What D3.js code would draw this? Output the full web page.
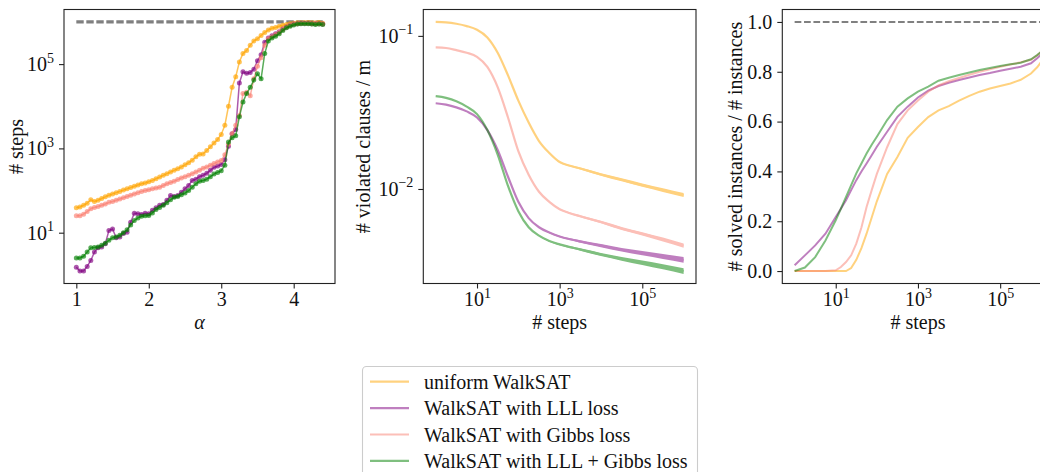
<!DOCTYPE html>
<html>
<head>
<meta charset="utf-8">
<script src="https://cdn.jsdelivr.net/npm/d3@7/dist/d3.min.js"></script>
<style>
  html, body { margin: 0; padding: 0; background: #fff; overflow: hidden; }
  svg { display: block; }
  text { font-family: "Liberation Serif", "Times New Roman", serif; fill: #111; }
</style>
</head>
<body>
<svg id="fig" width="1040" height="472"></svg>
<script>
// ---------------- data ----------------
const seriesNames = ["uniform WalkSAT", "WalkSAT with LLL loss", "WalkSAT with Gibbs loss", "WalkSAT with LLL + Gibbs loss"];
const seriesColors = ["orange", "purple", "salmon", "green"];

// Panel 1: median number of steps (log10) vs clause density alpha
const alphaValues = [1.00, 1.05, 1.10, 1.15, 1.20, 1.25, 1.30, 1.35, 1.40, 1.45, 1.50, 1.55, 1.60, 1.65, 1.70, 1.75, 1.80, 1.85, 1.90, 1.95,
  2.00, 2.05, 2.10, 2.15, 2.20, 2.25, 2.30, 2.35, 2.40, 2.45, 2.50, 2.55, 2.60, 2.65, 2.70, 2.75, 2.80, 2.85, 2.90, 2.95,
  3.00, 3.05, 3.10, 3.15, 3.20, 3.25, 3.30, 3.35, 3.40, 3.45, 3.50, 3.55, 3.60, 3.65, 3.70, 3.75, 3.80, 3.85, 3.90, 3.95,
  4.00, 4.05, 4.10, 4.15, 4.20, 4.25, 4.30, 4.35, 4.40];
const stepsUniformLog10 = [1.59, 1.61, 1.65, 1.70, 1.78, 1.74, 1.77, 1.81, 1.85, 1.89, 1.92, 1.95, 1.98, 2.01, 2.04, 2.07, 2.10, 2.13, 2.16, 2.18,
  2.21, 2.24, 2.28, 2.32, 2.36, 2.40, 2.44, 2.48, 2.52, 2.56, 2.61, 2.66, 2.72, 2.80, 2.86, 2.87, 2.95, 3.04, 3.13, 3.21,
  3.33, 3.55, 4.00, 4.45, 4.70, 5.05, 5.25, 5.32, 5.45, 5.55, 5.60, 5.68, 5.75, 5.81, 5.85, 5.87, 5.90, 5.92, 5.94, 5.96,
  5.97, 5.98, 5.98, 5.99, 5.99, 5.98, 5.98, 5.99, 5.97];
const stepsLLLLog10 = [0.18, 0.09, 0.09, 0.20, 0.34, 0.54, 0.64, 0.66, 0.74, 1.05, 1.09, 0.88, 0.90, 0.98, 1.01, 1.25, 1.46, 1.45, 1.43, 1.46,
  1.45, 1.53, 1.59, 1.65, 1.67, 1.77, 1.88, 1.86, 1.88, 1.96, 2.04, 2.12, 2.24, 2.27, 2.33, 2.36, 2.41, 2.48, 2.55, 2.58,
  2.62, 2.73, 3.05, 3.35, 3.45, 4.55, 4.82, 4.78, 4.80, 4.88, 5.08, 5.22, 5.52, 5.62, 5.67, 5.72, 5.77, 5.83, 5.88, 5.92,
  5.95, 5.96, 5.97, 5.97, 5.97, 5.96, 5.96, 5.96, 5.95];
const stepsGibbsLog10 = [1.40, 1.40, 1.44, 1.50, 1.57, 1.60, 1.62, 1.65, 1.68, 1.72, 1.74, 1.77, 1.80, 1.83, 1.86, 1.89, 1.92, 1.95, 1.98, 2.00,
  2.02, 2.04, 2.06, 2.08, 2.12, 2.16, 2.19, 2.22, 2.26, 2.30, 2.33, 2.36, 2.40, 2.44, 2.48, 2.53, 2.56, 2.60, 2.64, 2.68,
  2.71, 2.85, 3.10, 3.35, 3.55, 3.78, 4.30, 4.33, 4.25, 4.65, 4.95, 5.15, 5.45, 5.60, 5.65, 5.70, 5.75, 5.82, 5.88, 5.92,
  5.95, 5.96, 5.97, 5.97, 5.97, 5.96, 5.96, 5.96, 5.95];
const stepsLLLGibbsLog10 = [0.40, 0.40, 0.44, 0.54, 0.64, 0.65, 0.66, 0.70, 0.75, 0.82, 0.88, 0.90, 0.94, 1.00, 1.07, 1.18, 1.29, 1.35, 1.39, 1.40,
  1.41, 1.47, 1.55, 1.60, 1.65, 1.71, 1.78, 1.84, 1.86, 1.90, 1.94, 2.00, 2.08, 2.16, 2.22, 2.24, 2.27, 2.33, 2.39, 2.43,
  2.47, 2.60, 3.15, 3.25, 3.30, 3.75, 4.10, 4.30, 4.45, 4.62, 4.77, 4.65, 5.25, 5.55, 5.62, 5.66, 5.72, 5.80, 5.86, 5.90,
  5.93, 5.95, 5.96, 5.96, 5.96, 5.95, 5.94, 5.95, 5.94];
const maxStepsLog10 = 6;
const alphaTicks = [1, 2, 3, 4];
const stepsTicksLog10 = [1, 3, 5];

// Panel 2: fraction of violated clauses (log10) vs number of steps (log10)
const violatedStepsLog10 = [0, 0.25, 0.5, 0.75, 1, 1.25, 1.5, 1.75, 2, 2.25, 2.5, 2.75, 3, 3.25, 3.5, 4, 4.5, 5, 5.5, 6];
const violatedUniformLog10 = [-0.909, -0.912, -0.921, -0.936, -0.960, -1.010, -1.110, -1.258, -1.423, -1.566, -1.687, -1.765, -1.824, -1.848, -1.866, -1.905, -1.940, -1.975, -2.007, -2.040];
const violatedLLLLog10 = [-1.440, -1.449, -1.467, -1.493, -1.533, -1.615, -1.745, -1.920, -2.084, -2.190, -2.250, -2.285, -2.310, -2.328, -2.343, -2.370, -2.397, -2.419, -2.441, -2.463];
const violatedGibbsLog10 = [-1.075, -1.079, -1.093, -1.110, -1.137, -1.203, -1.335, -1.533, -1.753, -1.907, -2.018, -2.084, -2.132, -2.158, -2.178, -2.216, -2.258, -2.293, -2.330, -2.370];
const violatedLLLGibbsLog10 = [-1.394, -1.405, -1.427, -1.462, -1.511, -1.615, -1.775, -1.980, -2.145, -2.250, -2.305, -2.340, -2.362, -2.380, -2.395, -2.428, -2.456, -2.482, -2.508, -2.536];
// half-width of the run-to-run noise band (log10 units)
const violatedNoiseUniform = [0, 0, 0, 0, 0, 0, 0, 0, 0, 0, 0.001, 0.002, 0.004, 0.005, 0.006, 0.008, 0.010, 0.011, 0.012, 0.013];
const violatedNoiseLLL = [0, 0, 0, 0, 0, 0, 0, 0, 0, 0, 0.002, 0.004, 0.005, 0.006, 0.008, 0.010, 0.012, 0.014, 0.016, 0.018];
const violatedNoiseGibbs = [0, 0, 0, 0, 0, 0, 0, 0, 0, 0, 0.001, 0.002, 0.004, 0.005, 0.006, 0.008, 0.010, 0.011, 0.013, 0.014];
const violatedNoiseLLLGibbs = [0, 0, 0, 0, 0, 0, 0, 0, 0, 0, 0.002, 0.004, 0.005, 0.006, 0.008, 0.010, 0.012, 0.015, 0.017, 0.019];
const violatedTicksLog10 = [-1, -2];
const stepAxisTicksLog10 = [1, 3, 5];

// Panel 3: fraction of solved instances vs number of steps (log10)
const solvedStepsLog10 = [0, 0.25, 0.5, 0.75, 1, 1.125, 1.25, 1.375, 1.5, 1.625, 1.75, 1.875, 2, 2.25, 2.5, 2.75, 3, 3.25, 3.5, 3.75, 4, 4.25, 4.5, 4.75, 5, 5.25, 5.5, 5.75, 5.9, 6];
const solvedUniform = [0, 0, 0, 0, 0, 0, 0, 0.012, 0.045, 0.092, 0.150, 0.215, 0.280, 0.390, 0.458, 0.535, 0.578, 0.618, 0.645, 0.662, 0.684, 0.703, 0.720, 0.733, 0.743, 0.753, 0.768, 0.793, 0.818, 0.840];
const solvedLLL = [0.023, 0.063, 0.103, 0.150, 0.217, 0.250, 0.284, 0.325, 0.365, 0.400, 0.432, 0.465, 0.499, 0.559, 0.619, 0.660, 0.697, 0.724, 0.743, 0.756, 0.767, 0.777, 0.787, 0.795, 0.804, 0.812, 0.820, 0.834, 0.854, 0.870];
const solvedGibbs = [0, 0, 0, 0, 0.003, 0.016, 0.036, 0.063, 0.110, 0.175, 0.257, 0.325, 0.390, 0.497, 0.590, 0.645, 0.685, 0.720, 0.745, 0.762, 0.775, 0.788, 0.800, 0.810, 0.820, 0.829, 0.838, 0.848, 0.866, 0.880];
const solvedLLLGibbs = [0, 0.014, 0.056, 0.123, 0.204, 0.250, 0.298, 0.345, 0.392, 0.432, 0.472, 0.507, 0.539, 0.606, 0.660, 0.693, 0.720, 0.740, 0.764, 0.776, 0.787, 0.797, 0.807, 0.815, 0.823, 0.830, 0.836, 0.850, 0.867, 0.880];
const solvedTicks = [0.0, 0.2, 0.4, 0.6, 0.8, 1.0];

// ---------------- layout ----------------
const FONT = 20;
const svg = d3.select("#fig");
const plotTop = 9.5, plotBottom = 283.5;
const panels = [
  { x0: 64, x1: 335 },
  { x0: 423.3, x1: 696 },
  { x0: 782.3, x1: 1053.6 }
];

function padLinear(lo, hi) { const d = (hi - lo) * 0.05; return [lo - d, hi + d]; }
function padLog(lo, hi) { const d = (hi - lo) * 0.05; return [Math.pow(10, lo - d), Math.pow(10, hi + d)]; }
const pow10 = v => Math.pow(10, v);

function styleAxis(g) {
  g.attr("font-size", null).attr("font-family", null);
  g.select(".domain").remove();
  g.selectAll(".tick line").attr("stroke", "#222").attr("stroke-width", 1.1);
  g.selectAll(".tick text").attr("font-size", FONT).attr("fill", "#111");
}
function powerLabels(g) {
  g.selectAll(".tick text").each(function (d) {
    const e = Math.round(Math.log10(d));
    const t = d3.select(this);
    t.text("10");
    t.append("tspan").attr("font-size", "0.7em").attr("dy", "-0.6em")
      .text(e < 0 ? "\u2212" + (-e) : String(e));
  });
}
function frame(p) {
  svg.append("rect").attr("x", p.x0).attr("y", plotTop)
    .attr("width", p.x1 - p.x0).attr("height", plotBottom - plotTop)
    .attr("fill", "none").attr("stroke", "#222").attr("stroke-width", 1.1);
}
function yLabel(x, text) {
  svg.append("text").attr("transform", `translate(${x},${(plotTop + plotBottom) / 2}) rotate(-90)`)
    .attr("text-anchor", "middle").attr("font-size", FONT).text(text);
}
function xLabel(p, text, italic) {
  const t = svg.append("text").attr("x", (p.x0 + p.x1) / 2).attr("y", 329)
    .attr("text-anchor", "middle").attr("font-size", FONT).text(text);
  if (italic) t.attr("font-style", "italic");
}
const TICK = 5, TICK_PAD = 3.5;

// ---------------- panel 1 ----------------
{
  const p = panels[0];
  const stepSeries = [stepsUniformLog10, stepsLLLLog10, stepsGibbsLog10, stepsLLLGibbsLog10];
  const all = stepSeries.flat().concat([maxStepsLog10]);
  const x = d3.scaleLinear().domain(padLinear(d3.min(alphaValues), d3.max(alphaValues))).range([p.x0, p.x1]);
  const y = d3.scaleLog().domain(padLog(d3.min(all), d3.max(all))).range([plotBottom, plotTop]);

  // cutoff: maximum number of steps
  svg.append("line")
    .attr("x1", x(alphaValues[0])).attr("x2", x(alphaValues[alphaValues.length - 1]))
    .attr("y1", y(pow10(maxStepsLog10))).attr("y2", y(pow10(maxStepsLog10)))
    .attr("stroke", "#808080").attr("stroke-width", 3.2).attr("stroke-dasharray", "7.4,2.6");

  const line = d3.line().x((d, i) => x(alphaValues[i])).y(d => y(pow10(d)));
  stepSeries.forEach((s, k) => {
    const g = svg.append("g");
    g.append("path").attr("d", line(s)).attr("fill", "none")
      .attr("stroke", seriesColors[k]).attr("stroke-width", 1.5).attr("stroke-opacity", 0.65);
    g.selectAll("circle").data(s).join("circle")
      .attr("cx", (d, i) => x(alphaValues[i])).attr("cy", d => y(pow10(d)))
      .attr("r", 2.5).attr("fill", seriesColors[k]).attr("fill-opacity", 0.65);
  });

  const gx = svg.append("g").attr("transform", `translate(0,${plotBottom})`)
    .call(d3.axisBottom(x).tickValues(alphaTicks).tickFormat(d3.format("d")).tickSize(TICK).tickPadding(TICK_PAD));
  styleAxis(gx);
  const gy = svg.append("g").attr("transform", `translate(${p.x0},0)`)
    .call(d3.axisLeft(y).tickValues(stepsTicksLog10.map(pow10)).tickSize(TICK).tickPadding(5));
  styleAxis(gy); powerLabels(gy);
  frame(p);
  xLabel(p, "\u03b1", true);
  yLabel(23, "# steps");
}

// ---------------- panel 2 ----------------
{
  const p = panels[1];
  const vSeries = [violatedUniformLog10, violatedLLLLog10, violatedGibbsLog10, violatedLLLGibbsLog10];
  const noise = [violatedNoiseUniform, violatedNoiseLLL, violatedNoiseGibbs, violatedNoiseLLLGibbs];
  const all = vSeries.flat();
  const x = d3.scaleLog().domain(padLog(d3.min(violatedStepsLog10), d3.max(violatedStepsLog10))).range([p.x0, p.x1]);
  const y = d3.scaleLog().domain(padLog(d3.min(all), d3.max(all))).range([plotBottom, plotTop]);

  const line = d3.line().curve(d3.curveMonotoneX)
    .x((d, i) => x(pow10(violatedStepsLog10[i]))).y(d => y(pow10(d)));
  vSeries.forEach((s, k) => {
    const g = svg.append("g").attr("opacity", 0.5);
    const area = d3.area().curve(d3.curveMonotoneX)
      .x((d, i) => x(pow10(violatedStepsLog10[i])))
      .y0((d, i) => y(pow10(d - noise[k][i])))
      .y1((d, i) => y(pow10(d + noise[k][i])));
    g.append("path").attr("d", area(s)).attr("fill", seriesColors[k]);
    g.append("path").attr("d", line(s)).attr("fill", "none")
      .attr("stroke", seriesColors[k]).attr("stroke-width", 2.2);
  });

  const gx = svg.append("g").attr("transform", `translate(0,${plotBottom})`)
    .call(d3.axisBottom(x).tickValues(stepAxisTicksLog10.map(pow10)).tickSize(TICK).tickPadding(TICK_PAD));
  styleAxis(gx); powerLabels(gx);
  const gy = svg.append("g").attr("transform", `translate(${p.x0},0)`)
    .call(d3.axisLeft(y).tickValues(violatedTicksLog10.map(pow10)).tickSize(TICK).tickPadding(5));
  styleAxis(gy); powerLabels(gy);
  frame(p);
  xLabel(p, "# steps", false);
  yLabel(370, "# violated clauses / m");
}

// ---------------- panel 3 ----------------
{
  const p = panels[2];
  const sSeries = [solvedUniform, solvedLLL, solvedGibbs, solvedLLLGibbs];
  const x = d3.scaleLog().domain(padLog(d3.min(solvedStepsLog10), d3.max(solvedStepsLog10))).range([p.x0, p.x1]);
  const y = d3.scaleLinear().domain(padLinear(0, 1)).range([plotBottom, plotTop]);

  svg.append("line")
    .attr("x1", x(pow10(solvedStepsLog10[0]))).attr("x2", x(pow10(solvedStepsLog10[solvedStepsLog10.length - 1])))
    .attr("y1", y(1)).attr("y2", y(1))
    .attr("stroke", "#808080").attr("stroke-width", 2).attr("stroke-dasharray", "6.7,2.7");

  const line = d3.line().x((d, i) => x(pow10(solvedStepsLog10[i]))).y(d => y(d));
  sSeries.forEach((s, k) => {
    svg.append("path").attr("d", line(s)).attr("fill", "none")
      .attr("stroke", seriesColors[k]).attr("stroke-width", 2).attr("stroke-opacity", 0.5);
  });

  const gx = svg.append("g").attr("transform", `translate(0,${plotBottom})`)
    .call(d3.axisBottom(x).tickValues(stepAxisTicksLog10.map(pow10)).tickSize(TICK).tickPadding(TICK_PAD));
  styleAxis(gx); powerLabels(gx);
  const gy = svg.append("g").attr("transform", `translate(${p.x0},0)`)
    .call(d3.axisLeft(y).tickValues(solvedTicks).tickFormat(d3.format(".1f")).tickSize(TICK).tickPadding(5));
  styleAxis(gy);
  frame(p);
  xLabel(p, "# steps", false);
  yLabel(742, "# solved instances / # instances");
}

// ---------------- legend ----------------
{
  const lg = svg.append("g");
  lg.append("rect").attr("x", 362.5).attr("y", 366.5).attr("width", 335).attr("height", 120)
    .attr("rx", 4).attr("fill", "#fff").attr("fill-opacity", 0.8)
    .attr("stroke", "#cccccc").attr("stroke-width", 1.1);
  seriesNames.forEach((name, k) => {
    const cy = 381.7 + k * 26.4;
    lg.append("line").attr("x1", 370).attr("x2", 409).attr("y1", cy).attr("y2", cy)
      .attr("stroke", seriesColors[k]).attr("stroke-width", 2.2).attr("stroke-opacity", 0.5);
    lg.append("text").attr("x", 424).attr("y", cy + 7).attr("font-size", FONT).text(name);
  });
}
</script>
</body>
</html>
